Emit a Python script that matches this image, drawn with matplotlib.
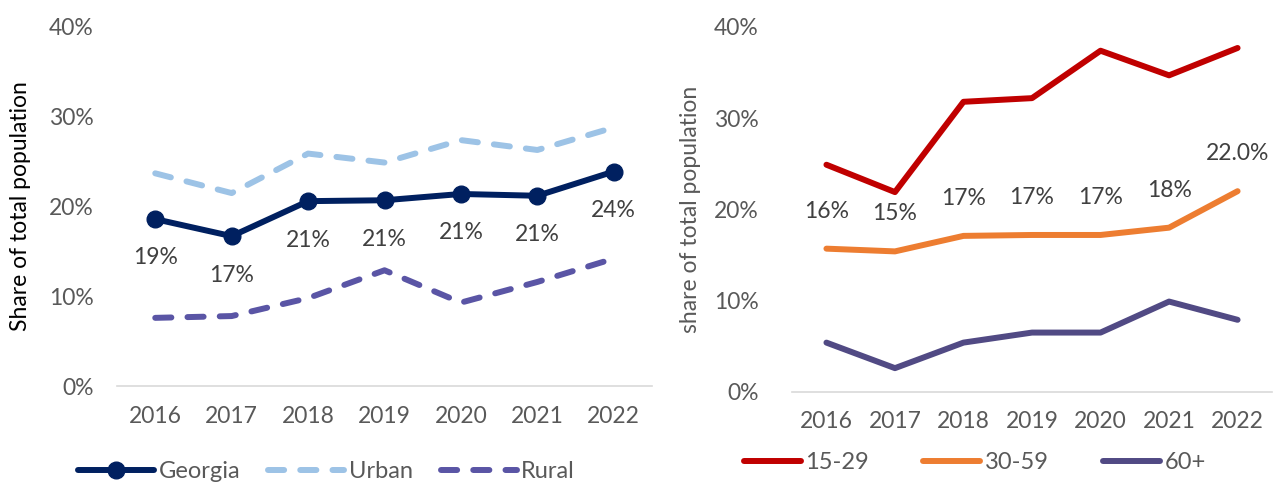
import matplotlib.pyplot as plt
from matplotlib.ticker import PercentFormatter

plt.rcParams['font.family'] = ['Lato', 'DejaVu Sans']

years = ['2016', '2017', '2018', '2019', '2020', '2021', '2022']

# left panel: by settlement type
georgia = [18.6, 16.7, 20.6, 20.7, 21.4, 21.2, 23.9]
urban = [23.7, 21.5, 25.9, 24.9, 27.4, 26.3, 28.8]
rural = [7.6, 7.8, 9.8, 12.9, 9.3, 11.6, 14.2]
georgia_labels = ['19%', '17%', '21%', '21%', '21%', '21%', '24%']

# right panel: by age group
age_15_29 = [24.9, 21.9, 31.8, 32.2, 37.4, 34.7, 37.7]
age_30_59 = [15.7, 15.4, 17.1, 17.2, 17.2, 18.0, 22.0]
age_60 = [5.4, 2.6, 5.4, 6.5, 6.5, 9.9, 7.9]
age_30_59_labels = ['16%', '15%', '17%', '17%', '17%', '18%', '22.0%']

tick_color = '#595959'
label_color = '#404040'
fs = 16.5
lw = 4.3

fig = plt.figure(figsize=(12.86, 4.82), dpi=100)
ax1 = fig.add_axes([0.091, 0.199, 0.416, 0.745])
ax2 = fig.add_axes([0.616, 0.187, 0.373, 0.757])

x = range(len(years))

# Left chart
dash = (0, (2.7, 2.7))
ax1.plot(x, urban, color='#9DC3E6', lw=lw, ls=dash, dash_capstyle='round', label='Urban')
ax1.plot(x, rural, color='#5A55A5', lw=lw, ls=dash, dash_capstyle='round', label='Rural')
ax1.plot(x, georgia, color='#002060', lw=lw, marker='o', markersize=12,
         solid_capstyle='round', label='Georgia')
for i, v in enumerate(georgia):
    ax1.annotate(georgia_labels[i], (i, v), xytext=(0, -28), textcoords='offset points',
                 ha='center', va='center', fontsize=fs, color=label_color)
ax1.set_ylabel('Share of total population', fontsize=fs, color='black')
ax1.yaxis.set_label_coords(-0.161, 0.5)

# Right chart
ax2.plot(x, age_15_29, color='#C00000', lw=lw, solid_capstyle='round', label='15-29')
ax2.plot(x, age_30_59, color='#ED7D31', lw=lw, solid_capstyle='round', label='30-59')
ax2.plot(x, age_60, color='#514A84', lw=lw, solid_capstyle='round', label='60+')
for i, v in enumerate(age_30_59):
    ax2.annotate(age_30_59_labels[i], (i, v), xytext=(0, 27), textcoords='offset points',
                 ha='center', va='center', fontsize=fs, color=label_color)
ax2.set_ylabel('share of total population', fontsize=fs, color=tick_color)
ax2.yaxis.set_label_coords(-0.191, 0.5)

for ax in (ax1, ax2):
    ax.set_xlim(-0.5, 6.5)
    ax.set_ylim(0, 40)
    ax.set_yticks([0, 10, 20, 30, 40])
    ax.yaxis.set_major_formatter(PercentFormatter(decimals=0))
    ax.set_xticks(list(x))
    ax.set_xticklabels(years)
    ax.tick_params(length=0, labelsize=fs, colors=tick_color)
    ax.tick_params(axis='x', pad=14)
    for s in ['top', 'right', 'left']:
        ax.spines[s].set_visible(False)
    ax.spines['bottom'].set_color('#D9D9D9')
    ax.spines['bottom'].set_linewidth(1.2)
ax1.tick_params(axis='y', pad=17)
ax2.tick_params(axis='y', pad=24)

h, l = ax1.get_legend_handles_labels()
order = [2, 0, 1]
fig.legend([h[i] for i in order], [l[i] for i in order], loc='center',
           bbox_to_anchor=(0.254, 0.022), ncol=3, frameon=False, fontsize=17,
           handlelength=3.2, columnspacing=1.2, handletextpad=0.2,
           labelcolor=tick_color)
fig.legend(*ax2.get_legend_handles_labels(), loc='center',
           bbox_to_anchor=(0.758, 0.04), ncol=3, frameon=False, fontsize=17,
           handlelength=2.4, columnspacing=2.3, handletextpad=0.2,
           labelcolor=tick_color)

fig.savefig('out.png', dpi=100, facecolor='white')
